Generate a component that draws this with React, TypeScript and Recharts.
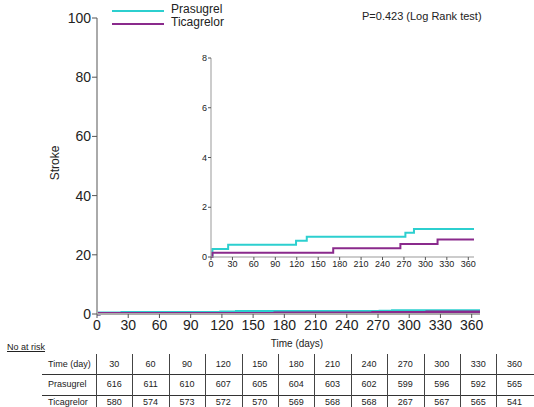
import { LineChart, Line, XAxis, YAxis } from "recharts";

const FONT = "'Liberation Sans', Arial, sans-serif";
const CYAN = "#2ccfcf";
const PURPLE = "#8a2a8c";

// step points (day, cumulative stroke %)
const prasugrelDays = [0, 2, 24, 119, 134, 272, 284, 368];
const prasugrelPct = [0, 0.32, 0.49, 0.65, 0.81, 0.97, 1.13, 1.13];
const ticagrelorDays = [0, 2, 171, 265, 317, 368];
const ticagrelorPct = [0, 0.17, 0.35, 0.52, 0.7, 0.7];

const dayTicks = [0, 30, 60, 90, 120, 150, 180, 210, 240, 270, 300, 330, 360];
const mainYTicks = [0, 20, 40, 60, 80, 100];
const insetYTicks = [0, 2, 4, 6, 8];

const riskTimes = [30, 60, 90, 120, 150, 180, 210, 240, 270, 300, 330, 360];
const riskPrasugrel = [616, 611, 610, 607, 605, 604, 603, 602, 599, 596, 592, 565];
const riskTicagrelor = [580, 574, 573, 572, 570, 569, 568, 568, 267, 567, 565, 541];

const prasugrel = prasugrelDays.map((d, i) => ({ d, v: prasugrelPct[i] }));
const ticagrelor = ticagrelorDays.map((d, i) => ({ d, v: ticagrelorPct[i] }));

export default function App() {
  const rows = [
    { label: "Time (day)", vals: riskTimes },
    { label: "Prasugrel", vals: riskPrasugrel },
    { label: "Ticagrelor", vals: riskTicagrelor },
  ];
  const rowTops = [354, 374, 395];
  const rowHeights = [20, 21, 14];
  return (
    <div
      style={{
        position: "absolute",
        left: 0,
        top: 0,
        width: 534,
        height: 407,
        background: "#fff",
        fontFamily: FONT,
        color: "#222",
        overflow: "hidden",
      }}
    >
      <div style={{ position: "absolute", left: 0, top: 0 }}>
        <LineChart
          width={534}
          height={335}
          margin={{ top: 18, right: 54, bottom: 0, left: 0 }}
        >
          <XAxis
            dataKey="d"
            type="number"
            domain={[0, 368]}
            ticks={dayTicks}
            allowDataOverflow
            axisLine={{ stroke: "#aaa", strokeWidth: 2 }}
            tickLine={{ stroke: "#555" }}
            tickSize={4}
            tick={{ fill: "#222", fontSize: 14, fontFamily: FONT }}
            height={21}
          />
          <YAxis
            type="number"
            domain={[0, 100]}
            ticks={mainYTicks}
            width={97}
            axisLine={{ stroke: "#aaa", strokeWidth: 2 }}
            tickLine={{ stroke: "#555" }}
            tickSize={5}
            tickMargin={1}
            tick={{ fill: "#222", fontSize: 14, fontFamily: FONT }}
          />
          <Line
            data={prasugrel}
            dataKey="v"
            type="stepAfter"
            stroke={CYAN}
            strokeWidth={3}
            dot={false}
            isAnimationActive={false}
          />
          <Line
            data={ticagrelor}
            dataKey="v"
            type="stepAfter"
            stroke={PURPLE}
            strokeWidth={3}
            dot={false}
            isAnimationActive={false}
          />
        </LineChart>
      </div>

      <div style={{ position: "absolute", left: 190, top: 40 }}>
        <LineChart
          width={300}
          height={230}
          margin={{ top: 18, right: 16, bottom: 0, left: 0 }}
        >
          <XAxis
            dataKey="d"
            type="number"
            domain={[0, 368]}
            ticks={dayTicks}
            allowDataOverflow
            axisLine={{ stroke: "#999" }}
            tickLine={{ stroke: "#555" }}
            tickSize={3}
            tickMargin={1}
            interval={0}
            tick={{ fill: "#222", fontSize: 9, fontFamily: FONT }}
            height={13}
          />
          <YAxis
            type="number"
            domain={[0, 8]}
            ticks={insetYTicks}
            width={21}
            axisLine={{ stroke: "#999" }}
            tickLine={{ stroke: "#555" }}
            tickSize={3}
            tickMargin={1}
            tick={{ fill: "#222", fontSize: 9, fontFamily: FONT }}
          />
          <Line
            data={prasugrel}
            dataKey="v"
            type="stepAfter"
            stroke={CYAN}
            strokeWidth={2}
            dot={false}
            isAnimationActive={false}
          />
          <Line
            data={ticagrelor}
            dataKey="v"
            type="stepAfter"
            stroke={PURPLE}
            strokeWidth={2}
            dot={false}
            isAnimationActive={false}
          />
        </LineChart>
      </div>

      {/* legend */}
      <div style={{ position: "absolute", left: 112, top: 10, width: 52, height: 2, background: CYAN }} />
      <div style={{ position: "absolute", left: 112, top: 23, width: 52, height: 2, background: PURPLE }} />
      <div style={{ position: "absolute", left: 171, top: 2, fontSize: 12 }}>Prasugrel</div>
      <div style={{ position: "absolute", left: 171, top: 15, fontSize: 12 }}>Ticagrelor</div>
      <div style={{ position: "absolute", left: 362, top: 10, fontSize: 11 }}>
        P=0.423 (Log Rank test)
      </div>

      {/* axis titles */}
      <div
        style={{
          position: "absolute",
          left: 55,
          top: 163,
          fontSize: 12,
          transform: "translate(-50%, -50%) rotate(-90deg)",
        }}
      >
        Stroke
      </div>
      <div
        style={{
          position: "absolute",
          left: 297,
          top: 343,
          fontSize: 10,
          transform: "translate(-50%, -50%)",
        }}
      >
        Time (days)
      </div>

      {/* number at risk */}
      <div
        style={{
          position: "absolute",
          left: 7,
          top: 342,
          fontSize: 9,
          textDecoration: "underline",
        }}
      >
        No at risk
      </div>
      {rows.map((r, ri) => (
        <div key={r.label}>
          <div
            style={{
              position: "absolute",
              left: 48,
              top: rowTops[ri],
              height: rowHeights[ri],
              lineHeight: `${rowHeights[ri]}px`,
              fontSize: 9,
            }}
          >
            {r.label}
          </div>
          {r.vals.map((v, ci) => (
            <div
              key={ci}
              style={{
                position: "absolute",
                left: 96 + ci * 36.4,
                width: 36.4,
                top: rowTops[ri],
                height: rowHeights[ri],
                lineHeight: `${rowHeights[ri]}px`,
                fontSize: 9,
                textAlign: "center",
              }}
            >
              {v}
            </div>
          ))}
        </div>
      ))}
      {[374, 395].map((y) => (
        <div
          key={y}
          style={{ position: "absolute", left: 42, top: y, width: 492, height: 1, background: "#333" }}
        />
      ))}
      {riskTimes.map((_, ci) => (
        <div
          key={ci}
          style={{
            position: "absolute",
            left: Math.round(96 + ci * 36.4),
            top: 354,
            width: 1,
            height: 53,
            background: "#444",
          }}
        />
      ))}
    </div>
  );
}
